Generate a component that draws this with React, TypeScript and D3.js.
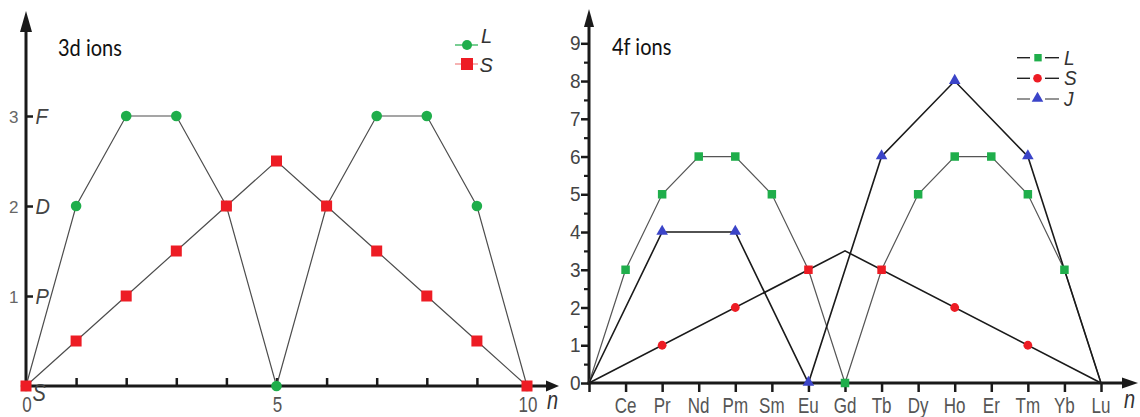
import React, { useEffect, useRef } from "react";
import * as d3 from "d3";

// 3d ions (left panel)
const nValues = [0, 1, 2, 3, 4, 5, 6, 7, 8, 9, 10];
const L3d = [0, 2, 3, 3, 2, 0, 2, 3, 3, 2, 0];
const S3d = [0, 0.5, 1, 1.5, 2, 2.5, 2, 1.5, 1, 0.5, 0];
const termTicks = [1, 2, 3];
const termLetters = ["S", "P", "D", "F"];
const nLabels = [0, 5, 10];

// 4f ions (right panel)
const ions = ["La", "Ce", "Pr", "Nd", "Pm", "Sm", "Eu", "Gd", "Tb", "Dy", "Ho", "Er", "Tm", "Yb", "Lu"];
const L4f = [0, 3, 5, 6, 6, 5, 3, 0, 3, 5, 6, 6, 5, 3, 0];
const sLine4f = [
  { ion: "La", v: 0 },
  { ion: "Gd", v: 3.5 },
  { ion: "Lu", v: 0 },
];
const sMarks4f = [
  { ion: "Pr", v: 1 },
  { ion: "Pm", v: 2 },
  { ion: "Eu", v: 3 },
  { ion: "Tb", v: 3 },
  { ion: "Ho", v: 2 },
  { ion: "Tm", v: 1 },
];
const J4f = [
  { ion: "La", v: 0 },
  { ion: "Pr", v: 4 },
  { ion: "Pm", v: 4 },
  { ion: "Eu", v: 0 },
  { ion: "Tb", v: 6 },
  { ion: "Ho", v: 8 },
  { ion: "Tm", v: 6 },
  { ion: "Lu", v: 0 },
];
const yTicks4f = [0, 1, 2, 3, 4, 5, 6, 7, 8, 9];
const yMinor4f = [0.5, 1.5, 2.5, 3.5, 4.5, 5.5, 6.5, 7.5, 8.5];

const GREEN = "#1fae4b";
const RED = "#ed1c24";
const BLUE = "#3b44c8";
const AXIS = "#1a1a1a";
const NUM = "#4a4a4a";
const SANS = "'Liberation Sans', Arial, sans-serif";

function label(g: any, x: number, y: number, str: string, size: number, opts: any = {}) {
  const sy = opts.sy || 1;
  return g
    .append("text")
    .attr("transform", `translate(${x},${y}) scale(1,${sy})`)
    .attr("text-anchor", opts.anchor || "start")
    .attr("font-family", opts.family || SANS)
    .attr("font-size", size)
    .attr("font-style", opts.italic ? "italic" : "normal")
    .attr("fill", opts.fill || NUM)
    .text(str);
}

function drawChart(svgEl: SVGSVGElement) {
  const svg = d3.select(svgEl);
  svg.selectAll("*").remove();

  // ---------- left: 3d ions ----------
  const x1 = d3.scaleLinear().domain([0, 10]).range([26, 527]);
  const y1 = d3.scaleLinear().domain([0, 3]).range([386, 116]);
  const left = svg.append("g");

  // ticks on x (upward)
  const xa1 = left
    .append("g")
    .attr("transform", `translate(0,${y1(0)})`)
    .call(d3.axisBottom(x1).tickValues(nValues.slice(1, 10)).tickSize(-8).tickFormat(() => ""));
  xa1.select(".domain").remove();
  xa1.selectAll("line").attr("stroke", AXIS).attr("stroke-width", 2.5);

  // ticks on y (right side)
  const ya1 = left
    .append("g")
    .attr("transform", `translate(${x1(0)},0)`)
    .call(d3.axisRight(y1).tickValues(termTicks).tickSize(7).tickFormat(() => ""));
  ya1.select(".domain").remove();
  ya1.selectAll("line").attr("stroke", AXIS).attr("stroke-width", 2.5);

  // axis lines with arrows
  left.append("line").attr("x1", x1(0)).attr("x2", x1(0)).attr("y1", y1(0) + 1.5).attr("y2", 30)
    .attr("stroke", AXIS).attr("stroke-width", 3);
  left.append("path").attr("d", `M${x1(0) - 6},32 L${x1(0)},11 L${x1(0) + 6},32 Z`).attr("fill", AXIS);
  left.append("line").attr("x1", x1(0) - 1.5).attr("x2", 548).attr("y1", y1(0)).attr("y2", y1(0))
    .attr("stroke", AXIS).attr("stroke-width", 3);
  left.append("path").attr("d", `M546,${y1(0) - 5.5} L559,${y1(0)} L546,${y1(0) + 5.5} Z`).attr("fill", AXIS);

  nLabels.forEach((n) => label(left, x1(n) + 1, 412, String(n), 17, { anchor: "middle", sy: 1.25, fill: "#555" }));
  label(left, 547, 409, "n", 20, { italic: true, sy: 1.3, fill: "#333" });
  termTicks.forEach((t) => {
    label(left, 18.5, y1(t) + 6.5, String(t), 17, { anchor: "end", fill: "#666" });
    label(left, 35.5, y1(t) + 7.5, termLetters[t], 20, { italic: true, sy: 1.1, fill: "#444" });
  });
  label(left, 32.5, 401, termLetters[0], 20, { italic: true, sy: 1.2, fill: "#444" });

  label(left, 58, 56, "3d ions", 20, { family: "Lato, 'Open Sans', sans-serif", sy: 1.15, fill: "#111" });

  const line1 = d3.line<number>().x((_, i) => x1(nValues[i])).y((d) => y1(d));
  left.append("path").datum(L3d).attr("d", line1).attr("fill", "none").attr("stroke", "#4d4d4d").attr("stroke-width", 1.2);
  left.append("path").datum(S3d).attr("d", line1).attr("fill", "none").attr("stroke", "#4d4d4d").attr("stroke-width", 1.2);

  left.selectAll(".lm").data(L3d).enter().append("circle")
    .attr("cx", (_, i) => x1(nValues[i])).attr("cy", (d) => y1(d)).attr("r", 5.3).attr("fill", GREEN);
  left.selectAll(".sm").data(S3d).enter().append("rect")
    .attr("x", (_, i) => x1(nValues[i]) - 5.5).attr("y", (d) => y1(d) - 5.5)
    .attr("width", 11).attr("height", 11).attr("fill", RED);

  // legend
  const lg1 = left.append("g");
  lg1.append("line").attr("x1", 455).attr("x2", 478).attr("y1", 45).attr("y2", 45).attr("stroke", GREEN).attr("stroke-width", 1.2);
  lg1.append("circle").attr("cx", 467).attr("cy", 45).attr("r", 5).attr("fill", GREEN);
  label(lg1, 481, 42.5, "L", 20, { italic: true, sy: 1.05, fill: "#333" });
  lg1.append("line").attr("x1", 455).attr("x2", 478).attr("y1", 64).attr("y2", 64).attr("stroke", "#f08080").attr("stroke-width", 1.2);
  lg1.append("rect").attr("x", 461).attr("y", 58).attr("width", 12).attr("height", 12).attr("fill", RED);
  label(lg1, 479.5, 72, "S", 20, { italic: true, sy: 1.05, fill: "#333" });

  // ---------- right: 4f ions ----------
  const x2 = d3.scalePoint<string>().domain(ions).range([589, 1101]);
  const y2 = d3.scaleLinear().domain([0, 9]).range([383, 43.3]);
  const right = svg.append("g");

  const xa2 = right
    .append("g")
    .attr("transform", `translate(0,${y2(0)})`)
    .call(d3.axisBottom(x2).tickSize(9).tickFormat(() => ""));
  xa2.select(".domain").remove();
  xa2.selectAll("line").attr("stroke", AXIS).attr("stroke-width", 2.5);

  const ya2 = right
    .append("g")
    .attr("transform", `translate(${x2("La")},0)`)
    .call(d3.axisLeft(y2).tickValues(yTicks4f).tickSize(8).tickFormat(() => ""));
  ya2.select(".domain").remove();
  ya2.selectAll("line").attr("stroke", AXIS).attr("stroke-width", 2.5);
  const ym2 = right
    .append("g")
    .attr("transform", `translate(${x2("La")},0)`)
    .call(d3.axisLeft(y2).tickValues(yMinor4f).tickSize(5).tickFormat(() => ""));
  ym2.select(".domain").remove();
  ym2.selectAll("line").attr("stroke", AXIS).attr("stroke-width", 2.2);

  const ox = x2("La") as number;
  right.append("line").attr("x1", ox).attr("x2", ox).attr("y1", y2(0) + 1.5).attr("y2", 26)
    .attr("stroke", AXIS).attr("stroke-width", 3);
  right.append("path").attr("d", `M${ox - 5},27 L${ox},9 L${ox + 5},27 Z`).attr("fill", AXIS);
  right.append("line").attr("x1", ox - 1.5).attr("x2", 1124).attr("y1", y2(0)).attr("y2", y2(0))
    .attr("stroke", AXIS).attr("stroke-width", 3);
  right.append("path").attr("d", `M1122,${y2(0) - 5.5} L1138,${y2(0)} L1122,${y2(0) + 5.5} Z`).attr("fill", AXIS);

  yTicks4f.forEach((t) => label(right, 580.5, y2(t) + 7, String(t), 19, { anchor: "end", sy: 1.05, fill: "#444" }));
  ions.slice(1).forEach((ion) =>
    label(right, x2(ion) as number, 413, ion, 17, { anchor: "middle", sy: 1.25, fill: "#555" })
  );
  label(right, 1124, 408, "n", 20, { italic: true, sy: 1.3, fill: "#333" });
  label(right, 612, 55, "4f ions", 20, { family: "Lato, 'Open Sans', sans-serif", sy: 1.15, fill: "#111" });

  const line2 = d3.line<{ ion: string; v: number }>().x((d) => x2(d.ion) as number).y((d) => y2(d.v));
  const lPts = ions.map((ion, i) => ({ ion, v: L4f[i] }));
  right.append("path").datum(lPts).attr("d", line2).attr("fill", "none").attr("stroke", "#555").attr("stroke-width", 1.2);
  right.append("path").datum(sLine4f).attr("d", line2).attr("fill", "none").attr("stroke", "#1a1a1a").attr("stroke-width", 1.6);
  right.append("path").datum(J4f).attr("d", line2).attr("fill", "none").attr("stroke", "#1a1a1a").attr("stroke-width", 1.6);

  const sq = 8.5;
  // L markers (red where they coincide with an S marker)
  const lMarks = lPts.slice(1, -1);
  right.selectAll(".l4").data(lMarks).enter().append("rect")
    .attr("x", (d) => (x2(d.ion) as number) - sq / 2).attr("y", (d) => y2(d.v) - sq / 2)
    .attr("width", sq).attr("height", sq)
    .attr("fill", (d) => (sMarks4f.some((s) => s.ion === d.ion && s.v === d.v) ? RED : GREEN));
  right.selectAll(".s4").data(sMarks4f.filter((s) => L4f[ions.indexOf(s.ion)] !== s.v)).enter().append("circle")
    .attr("cx", (d) => x2(d.ion) as number).attr("cy", (d) => y2(d.v)).attr("r", 4.4).attr("fill", RED);
  const tri = d3.symbol().type(d3.symbolTriangle).size(58);
  right.selectAll(".j4").data(J4f.slice(1, -1)).enter().append("path")
    .attr("d", tri)
    .attr("transform", (d) => `translate(${x2(d.ion)},${y2(d.v) - 0.5})`)
    .attr("fill", BLUE);

  // legend
  const lg2 = right.append("g");
  const rows = [
    { name: "L", y: 57.7, stroke: "#222" },
    { name: "S", y: 78.3, stroke: "#222" },
    { name: "J", y: 99, stroke: "#666" },
  ];
  rows.forEach((r) => {
    lg2.append("line").attr("x1", 1017).attr("x2", 1030).attr("y1", r.y).attr("y2", r.y).attr("stroke", r.stroke).attr("stroke-width", 1.4);
    lg2.append("line").attr("x1", 1045).attr("x2", 1059).attr("y1", r.y).attr("y2", r.y).attr("stroke", r.stroke).attr("stroke-width", 1.4);
    label(lg2, 1064, r.y + 7, r.name, 19, { italic: true, sy: 1.05, fill: "#333" });
  });
  lg2.append("rect").attr("x", 1038 - 3.7).attr("y", rows[0].y - 3.7).attr("width", 7.4).attr("height", 7.4).attr("fill", GREEN);
  lg2.append("circle").attr("cx", 1037.5).attr("cy", rows[1].y).attr("r", 4.3).attr("fill", RED);
  lg2.append("path").attr("d", tri).attr("transform", `translate(1037.5,${rows[2].y - 0.5})`).attr("fill", BLUE);
}

export default function App() {
  const ref = useRef<SVGSVGElement>(null);
  useEffect(() => {
    if (ref.current) drawChart(ref.current);
  }, []);
  return (
    <svg
      ref={ref}
      width={1140}
      height={417}
      style={{ position: "absolute", left: 0, top: 0, background: "#fff" }}
    />
  );
}
